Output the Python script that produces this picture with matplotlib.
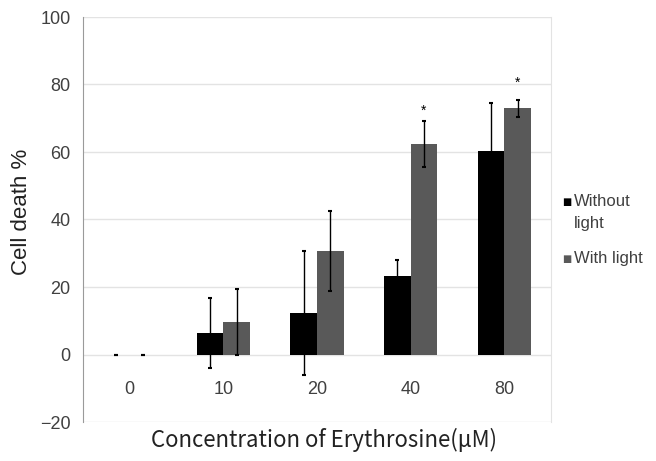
import matplotlib
matplotlib.use("Agg")
import matplotlib.pyplot as plt
import numpy as np

categories = ["0", "10", "20", "40", "80"]
without_light = [0, 6.3, 12.3, 23.2, 60.2]
without_err = [0, 10.4, 18.3, 4.8, 14.4]
with_light = [0, 9.7, 30.6, 62.4, 72.9]
with_err = [0, 9.7, 11.8, 6.7, 2.6]
series_names = ["Without\nlight", "With light"]
series_colors = ["black", "#595959"]
star_cats = [3, 4]
star_vals = [70.2, 78.4]

plt.rcParams['font.family'] = ['Liberation Sans', 'DejaVu Sans']

fig = plt.figure(figsize=(6.56, 4.61), dpi=100)
ax = fig.add_axes([83/656, 39/461, 468/656, 405/461])

x = np.arange(len(categories))
w = 0.285
ax.bar(x - w/2, without_light, w, color=series_colors[0], yerr=without_err,
       error_kw=dict(ecolor='black', elinewidth=1.0, capsize=1.5, capthick=1.5),
       zorder=3)
ax.bar(x + w/2, with_light, w, color=series_colors[1], yerr=with_err,
       error_kw=dict(ecolor='black', elinewidth=1.0, capsize=1.5, capthick=1.5),
       zorder=3)

for c, v in zip(star_cats, star_vals):
    ax.text(c + w/2, v, '*', ha='center', va='bottom', fontsize=10, color='black')

ax.set_xlim(-0.5, len(categories) - 0.5)
ax.set_ylim(-20, 100)
ax.set_yticks([-20, 0, 20, 40, 60, 80, 100])
ax.yaxis.grid(True, color='#e3e3e3', linewidth=1.0, zorder=0)
ax.set_axisbelow(True)

ax.set_xticks(x)
ax.set_xticklabels(categories)
ax.spines['bottom'].set_position(('data', 0))
ax.spines['bottom'].set_visible(False)
ax.spines['top'].set_visible(False)
ax.spines['right'].set_color('#e3e3e3')
ax.spines['left'].set_color('#9a9a9a')
ax.tick_params(axis='x', length=0, pad=19, labelsize=13, labelcolor='#404040')
ax.tick_params(axis='y', length=0, pad=9, labelsize=13, labelcolor='#404040')

ax.set_ylabel('Cell death %', fontsize=16, color='#222222')
ax.yaxis.set_label_coords(-0.109, 0.518)
fig.text(324/656, 1 - 440/461, 'Concentration of Erythrosine(μM)',
         ha='center', va='center', fontsize=16, color='#222222',
         family=['Noto Sans CJK KR', 'DejaVu Sans'])

# legend (Excel style: handle aligned with first text line)
leg_y = [202, 259]
for name, col, yy in zip(series_names, series_colors, leg_y):
    fig.text(566.5/656, 1 - yy/461, '■', ha='center', va='center',
             fontsize=7, color=col, family=['DejaVu Sans'])
    fig.text(574/656, 1 - (yy - 8)/461, name, ha='left', va='top',
             fontsize=12, color='#404040', linespacing=1.55)

fig.savefig('out.png', dpi=100)
